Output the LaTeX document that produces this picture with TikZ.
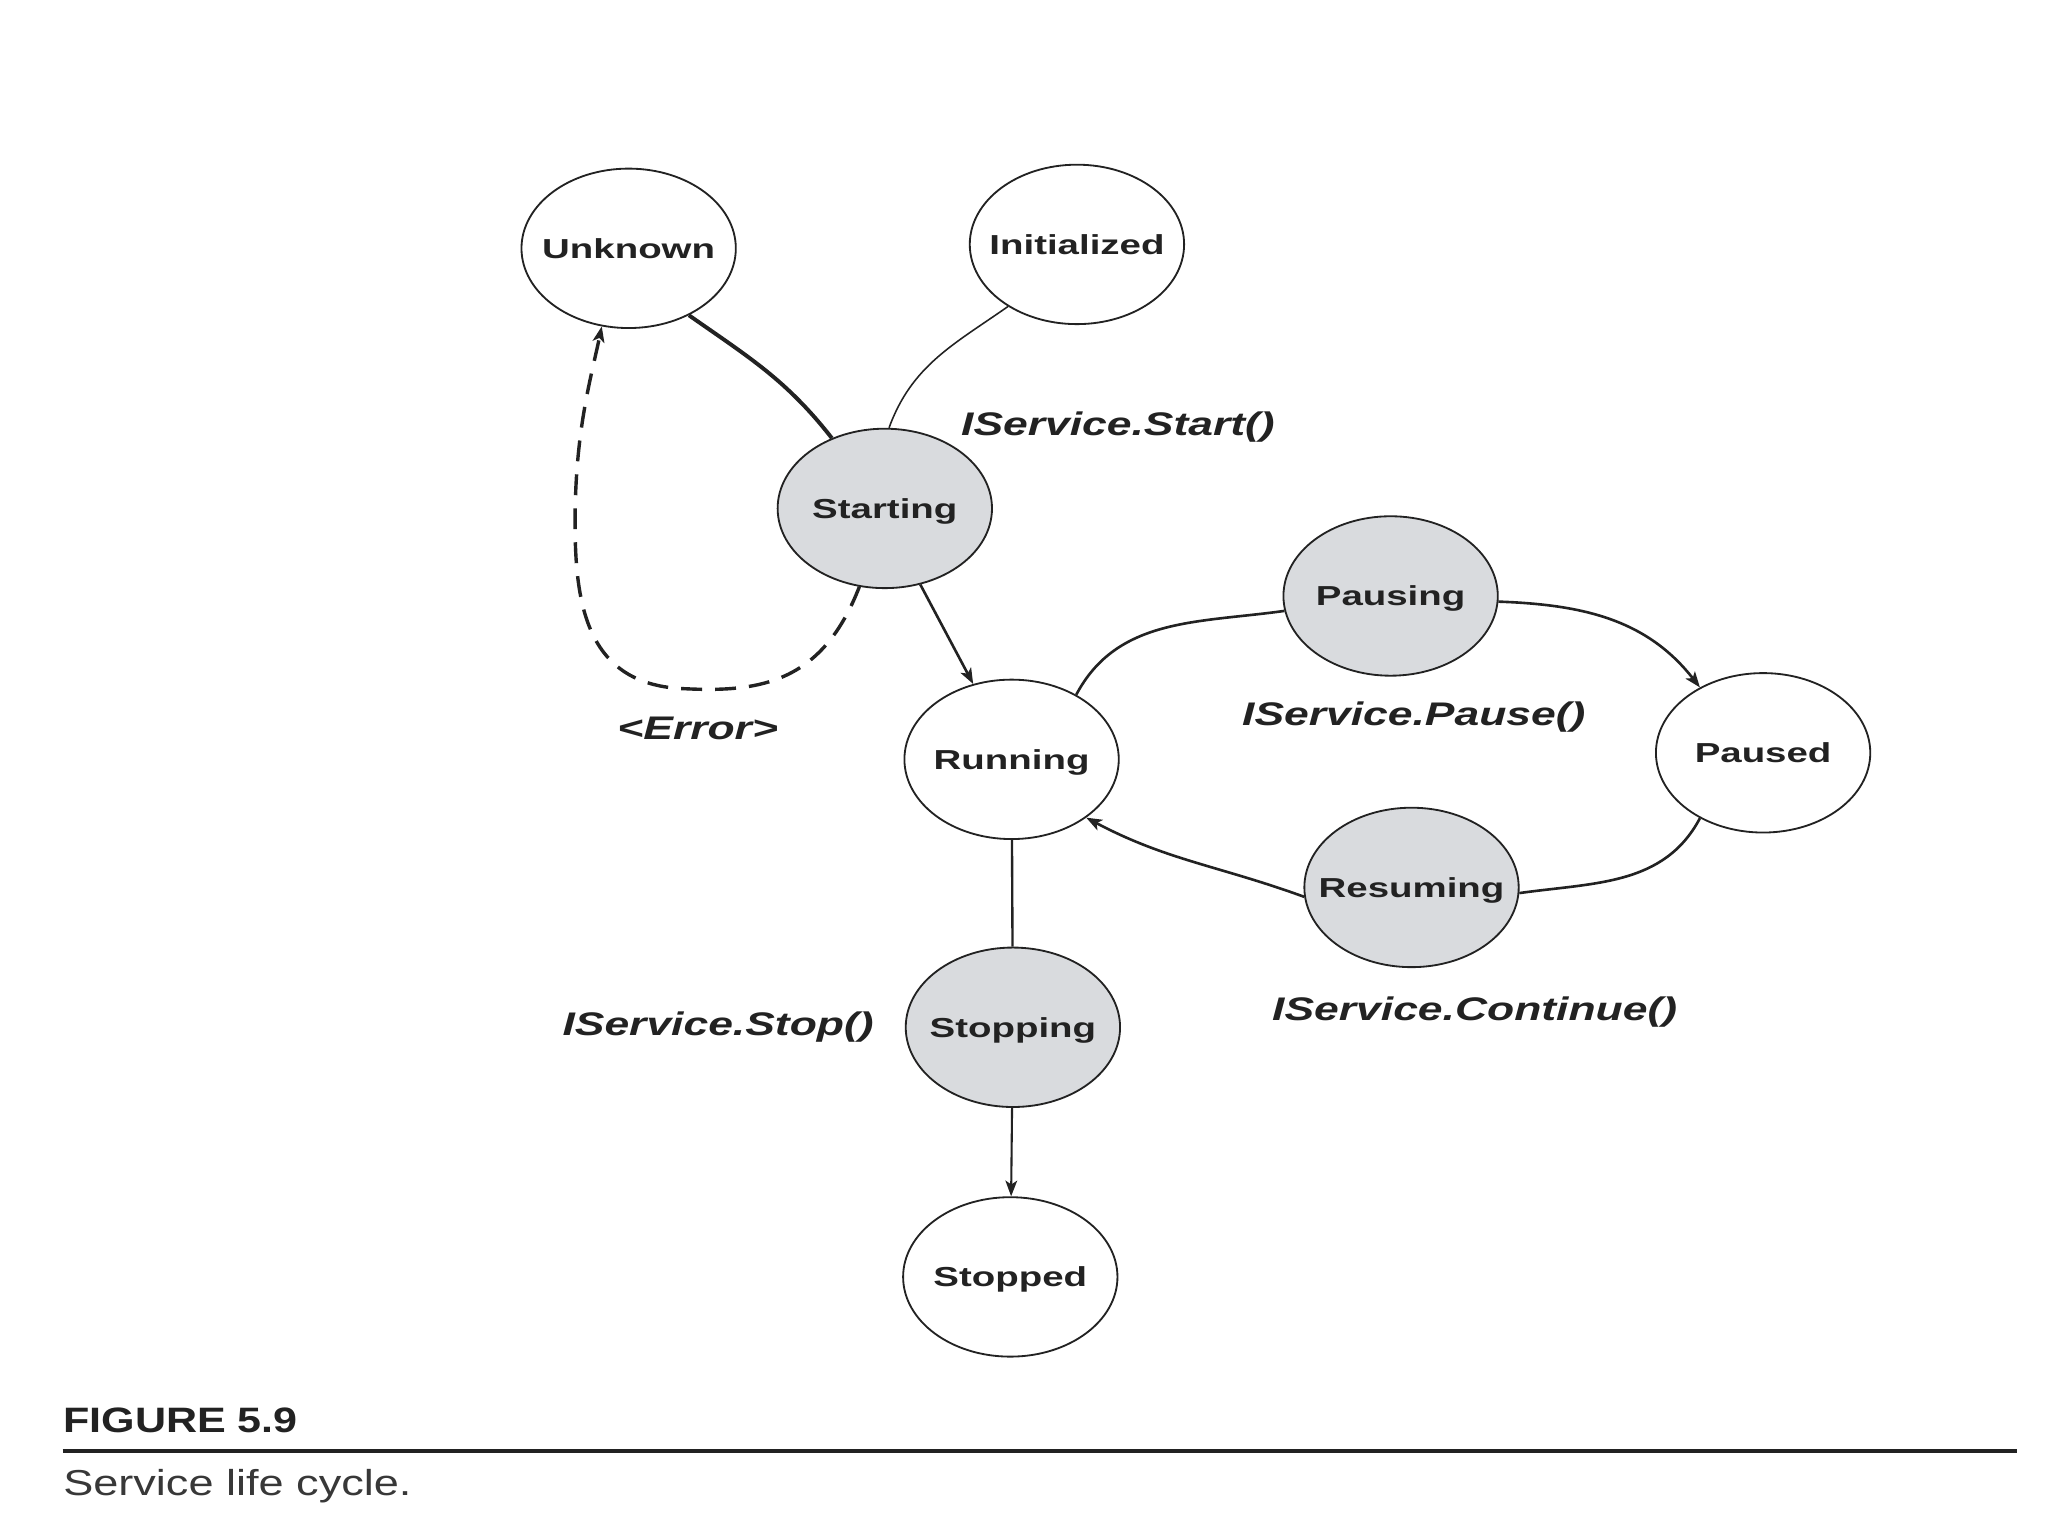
\documentclass[tikz,border=0pt]{standalone}
\usepackage{fontspec}
\setmainfont{Liberation Sans}
\newfontfamily\nodefont{Liberation Sans}[FakeStretch=1.4]
\newfontfamily\lblfont{Liberation Sans}[FakeStretch=1.36]
\newfontfamily\figfont{Liberation Sans}[FakeStretch=1.22]
\newfontfamily\capfont{Liberation Sans}[FakeStretch=1.25]
\usetikzlibrary{shapes.geometric,arrows.meta}
\definecolor{busygray}{RGB}{217,219,222}
\definecolor{ink}{RGB}{34,34,34}
\newcommand\ztext[1]{\makebox[0pt]{#1}}
\tikzset{
  state/.style={ellipse, draw=ink, line width=0.7pt, minimum width=82pt, minimum height=61pt,
    inner sep=0pt, text height=7.5pt, text depth=0pt, text=ink,
    font=\nodefont\bfseries\fontsize{10.5}{12}\selectfont},
  busy/.style={state, fill=busygray},
  conn/.style={line width=1pt, draw=ink},
  thinconn/.style={line width=0.6pt, draw=ink},
  heavyconn/.style={line width=1.5pt, draw=ink},
  tip/.style={-{Stealth[length=6pt,width=4.5pt,inset=1.5pt]}},
  lbl/.style={anchor=base west, inner sep=0pt, text=ink,
    font=\lblfont\bfseries\itshape\fontsize{12.5}{14}\selectfont},
}
\begin{document}
\begin{tikzpicture}[x=0.5pt,y=-0.5pt]
\path[use as bounding box, fill=white] (0,0) rectangle (1567,1175.25);

% states
\node[state] (unk) at (481,190) {\ztext{Unknown}};
\node[state] (ini) at (824,187) {\ztext{Initialized}};
\node[busy]  (sta) at (677,389) {\ztext{Starting}};
\node[busy]  (pau) at (1064,456) {\ztext{Pausing}};
\node[state] (run) at (774,581) {\ztext{Running}};
\node[state] (psd) at (1349,576) {\ztext{Paused}};
\node[busy]  (res) at (1080,679) {\ztext{Resuming}};
\node[busy]  (stp) at (775,786) {\ztext{Stopping}};
\node[state] (std) at (773,977) {\ztext{Stopped}};

% labels
\node[lbl] (lstart) at (735,333) {IService.Start()};
\node[lbl] (lerr)   at (472,566) {<Error>};
\node[lbl] (lpause) at (950,555) {IService.Pause()};
\node[lbl] (lcont)  at (973,781) {IService.Continue()};
\node[lbl] (lstop)  at (430,792) {IService.Stop()};

% connectors
\draw[heavyconn] (unk.-48) to[out=-35,in=128] (sta.127);
\draw[thinconn] (ini.-138) to[out=-145,in=70] (sta.87);
\draw[conn,tip] (sta.-65) -- (run.117);
\draw[conn,tip,line width=1.3pt,dash pattern=on 8pt off 5pt]
  (sta.-108) .. controls (630,520) and (585,530) .. (525,527)
  .. controls (450,525) and (440,465) .. (440,400)
  .. controls (440,330) and (452,290) .. (unk.-109);
\draw[conn] (run.45) to[out=62,in=188] (pau.-172);
\draw[conn,tip] (pau.-3) to[out=-2,in=128] (psd.134);
\draw[conn] (psd.-134) to[out=-118,in=8] (res.-3);
\draw[conn,tip] (res.185) to[out=160,in=-28] (run.-38);
\draw[conn,line width=0.9pt] (run) -- (stp);
\draw[thinconn,line width=0.8pt,tip] (stp) -- (std);

% caption
\node[anchor=base west, inner sep=0pt, text=ink, font=\figfont\bfseries\fontsize{13.5}{15}\selectfont]
  (fig) at (48,1096) {FIGURE 5.9};
\coordinate (rl) at (48,1110);
\coordinate (rr) at (1543,1110);
\draw[line width=1.5pt, draw=ink] (rl) -- (rr);
\node[anchor=base west, inner sep=0pt, text=ink!90, font=\capfont\fontsize{13.8}{16}\selectfont]
  (cap) at (48,1144) {Service life cycle.};
\end{tikzpicture}
\end{document}
